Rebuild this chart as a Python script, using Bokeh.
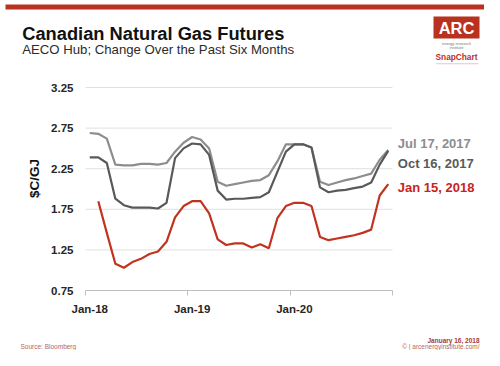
import math
from bokeh.plotting import figure
from bokeh.models import Range1d, FixedTicker, Label, BoxAnnotation, LinearAxis
from bokeh.embed import file_html
from bokeh.resources import INLINE

# ---------------- data ----------------
months = [f"{m}-{y}" for y in ("18", "19", "20")
          for m in ("Jan", "Feb", "Mar", "Apr", "May", "Jun",
                    "Jul", "Aug", "Sep", "Oct", "Nov", "Dec")]
month_idx = list(range(len(months)))

jul_17_2017 = [2.69, 2.68, 2.62, 2.30, 2.29, 2.29, 2.31, 2.31, 2.30, 2.32,
               2.46, 2.57, 2.64, 2.61, 2.50, 2.09, 2.04, 2.06, 2.08, 2.10,
               2.11, 2.17, 2.34, 2.55, 2.55, 2.55, 2.51, 2.09, 2.05, 2.08,
               2.11, 2.13, 2.16, 2.19, 2.36, 2.48]
oct_16_2017 = [2.39, 2.39, 2.32, 1.88, 1.80, 1.77, 1.77, 1.77, 1.76, 1.83,
               2.38, 2.50, 2.56, 2.55, 2.42, 1.98, 1.87, 1.88, 1.88, 1.89,
               1.90, 1.96, 2.21, 2.46, 2.55, 2.55, 2.51, 2.02, 1.96, 1.98,
               1.99, 2.01, 2.03, 2.08, 2.30, 2.47]
# Jan 15, 2018 curve starts at Feb-18
jan_15_2018 = [1.85, 1.46, 1.08, 1.03, 1.10, 1.14, 1.20, 1.23, 1.35,
               1.65, 1.79, 1.85, 1.85, 1.70, 1.38, 1.31, 1.33, 1.33, 1.28,
               1.32, 1.27, 1.64, 1.79, 1.83, 1.83, 1.79, 1.41, 1.37, 1.39,
               1.41, 1.43, 1.46, 1.50, 1.92, 2.06]
jan_idx = month_idx[1:]

series_names = ["Jul 17, 2017", "Oct 16, 2017", "Jan 15, 2018"]
x_tick_labels = {0: "Jan-18", 12: "Jan-19", 24: "Jan-20"}
y_ticks = [0.75, 1.25, 1.75, 2.25, 2.75, 3.25]

# ---------------- layout / styles ----------------
W, H = 484, 350
PLOT_L, PLOT_T, PLOT_W, PLOT_H = 85, 87, 307, 203   # plot area in canvas px
x_lo, x_hi = month_idx[0] - 0.5, month_idx[-1] + 0.5
y_lo, y_hi = y_ticks[0], y_ticks[-1]
px_x = PLOT_W / (x_hi - x_lo)
px_y = PLOT_H / (y_hi - y_lo)

FONT = "Liberation Sans"
C_JUL = "#8d8d8d"
C_OCT = "#595959"
C_JAN = "#c0341f"
C_JAN_TXT = "#c8241c"
C_RED = "#b9311f"
C_FOOT = "#b5675d"

p = figure(width=W, height=H,
           x_range=Range1d(x_lo - PLOT_L / px_x, x_hi + (W - PLOT_L - PLOT_W) / px_x),
           y_range=Range1d(y_lo - (H - PLOT_T - PLOT_H) / px_y, y_hi + PLOT_T / px_y),
           x_axis_type=None, y_axis_type=None,
           min_border=0, min_border_left=0, min_border_right=0,
           min_border_top=0, min_border_bottom=0,
           output_backend="svg", toolbar_location=None,
           background_fill_color="white", border_fill_color="white",
           outline_line_color=None)
p.xgrid.visible = False
p.ygrid.visible = False

# horizontal gridlines limited to the data extent
p.segment(x0=[x_lo] * len(y_ticks), x1=[x_hi] * len(y_ticks),
          y0=y_ticks, y1=y_ticks, line_color="#e0e0e0", line_width=1)

p.line(month_idx, jul_17_2017, line_color=C_JUL, line_width=2.2)
p.line(month_idx, oct_16_2017, line_color=C_OCT, line_width=2.2)
p.line(jan_idx, jan_15_2018, line_color=C_JAN, line_width=2.2)

# axes fixed at the data extent
xaxis = LinearAxis(fixed_location=y_lo, bounds=(x_lo, x_hi),
                   ticker=FixedTicker(ticks=list(x_tick_labels.keys()),
                                      minor_ticks=[x_lo, 11.5, 23.5, x_hi]),
                   major_label_overrides=x_tick_labels,
                   major_tick_out=0, major_tick_in=0,
                   minor_tick_out=5, minor_tick_in=0,
                   minor_tick_line_color="#bfbfbf",
                   axis_line_color="#bfbfbf",
                   major_label_standoff=7,
                   major_label_text_font=FONT,
                   major_label_text_font_style="bold",
                   major_label_text_font_size="11.5px",
                   major_label_text_color="#262626")
p.add_layout(xaxis, "below")

yaxis = LinearAxis(fixed_location=x_lo, bounds=(y_lo, y_hi),
                   ticker=FixedTicker(ticks=y_ticks),
                   axis_line_color=None,
                   major_tick_line_color=None, minor_tick_line_color=None,
                   major_tick_out=0, major_tick_in=0,
                   major_label_standoff=12,
                   major_label_text_font=FONT,
                   major_label_text_font_style="bold",
                   major_label_text_font_size="11.5px",
                   major_label_text_color="#262626")
p.add_layout(yaxis, "left")


def lab(text, x, y, size, color, bold=False, align="left",
        baseline="alphabetic", angle=0.0):
    # x, y: canvas px from the top-left corner
    p.add_layout(Label(x=x, y=H - y, x_units="screen", y_units="screen",
                       text=text, text_font=FONT, text_font_size=size,
                       text_font_style="bold" if bold else "normal",
                       text_color=color, text_align=align,
                       text_baseline=baseline, angle=angle))


def box(left, top, right, bottom, color, alpha=1.0):
    p.add_layout(BoxAnnotation(left=left, right=right, top=H - top, bottom=H - bottom,
                               left_units="screen", right_units="screen",
                               top_units="screen", bottom_units="screen",
                               fill_color=color, fill_alpha=alpha, line_color=None))


# header
box(5, 4, 484, 9, C_RED)
lab("Canadian Natural Gas Futures", 21.7, 33.3, "18.3px", "#111111", bold=True)
lab("AECO Hub; Change Over the Past Six Months", 21.7, 49.3, "13.2px", "#2b2b2b")

# logo
box(433, 16, 479, 38, C_RED)
lab("ARC", 456, 27.5, "16.5px", "white", bold=True, align="center", baseline="middle")
lab("energy research", 456, 43, "4px", "#777777", align="center", baseline="middle")
lab("institute", 456, 47, "4px", "#777777", align="center", baseline="middle")
lab("SnapChart", 456, 56.7, "8.3px", C_RED, bold=True, align="center", baseline="middle")
box(436, 62.8, 478, 63.8, "#e8c4bf")

# y axis title
lab("$C/GJ", 33.7, 178, "13.5px", "#111111", bold=True, align="center",
    baseline="middle", angle=math.pi / 2)

# series labels
lab(series_names[0], 397.3, 143.3, "13px", C_JUL, bold=True)
lab(series_names[1], 397.3, 163.3, "13px", C_OCT, bold=True)
lab(series_names[2], 397.3, 186.7, "13px", C_JAN_TXT, bold=True)

# footer
lab("Source: Bloomberg", 20, 345.5, "6.5px", C_FOOT, baseline="middle")
lab("January 16, 2018", 479, 340, "6.5px", "#a8392e", bold=True, align="right", baseline="middle")
lab("\u00a9 | arcenergyinstitute.com/", 479, 345.5, "6.5px", C_FOOT, align="right", baseline="middle")

open("out.html", "w").write(file_html(p, INLINE))
